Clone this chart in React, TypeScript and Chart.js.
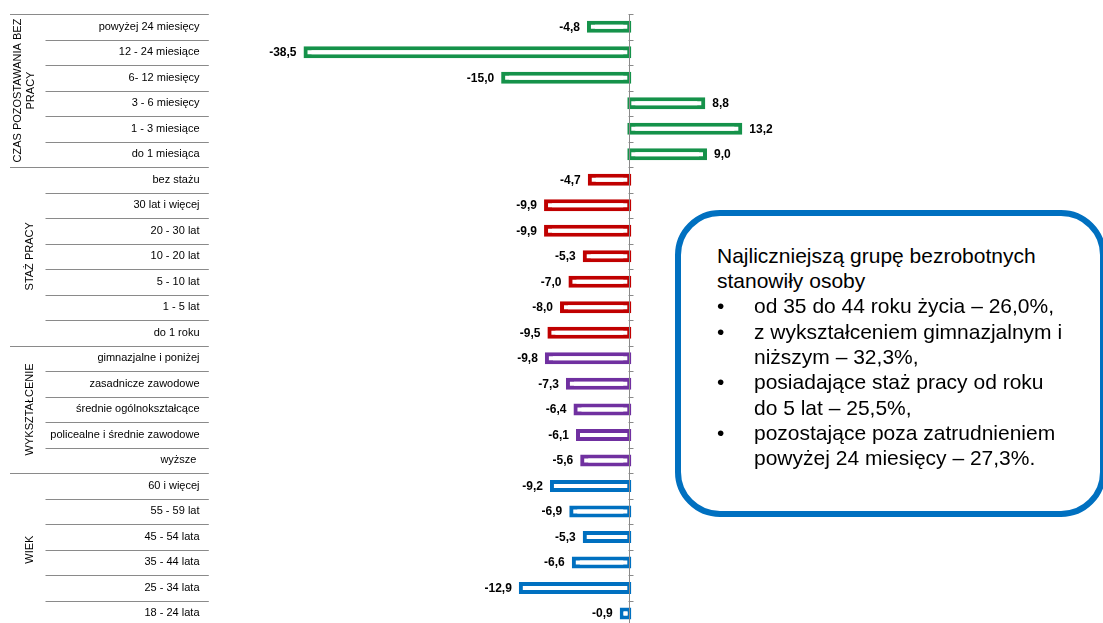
import React, { useEffect, useRef } from "react";
import { Chart, registerables } from "chart.js";

Chart.register(...registerables);

const categories: string[] = [
  "powyżej 24 miesięcy",
  "12 - 24 miesiące",
  "6- 12 miesięcy",
  "3 - 6 miesięcy",
  "1 - 3 miesiące",
  "do 1 miesiąca",
  "bez stażu",
  "30 lat i więcej",
  "20 - 30 lat",
  "10 - 20 lat",
  "5 - 10 lat",
  "1 - 5 lat",
  "do 1 roku",
  "gimnazjalne i poniżej",
  "zasadnicze zawodowe",
  "średnie ogólnokształcące",
  "policealne i średnie zawodowe",
  "wyższe ",
  "60 i więcej",
  "55 - 59 lat",
  "45 - 54 lata",
  "35 - 44 lata",
  "25 - 34 lata",
  "18 - 24 lata",
];

const values: number[] = [
  -4.8, -38.5, -15.0, 8.8, 13.2, 9.0,
  -4.7, -9.9, -9.9, -5.3, -7.0, -8.0, -9.5,
  -9.8, -7.3, -6.4, -6.1, -5.6,
  -9.2, -6.9, -5.3, -6.6, -12.9, -0.9,
];

const groupNames: string[][] = [
  ["CZAS POZOSTAWANIA BEZ", "PRACY"],
  ["STAŻ PRACY"],
  ["WYKSZTAŁCENIE"],
  ["WIEK"],
];
const groupSizes: number[] = [6, 7, 5, 6];
const groupColors: string[] = ["#15924A", "#C00000", "#7030A0", "#0070C0"];

const FONT = "'Liberation Sans', Arial, sans-serif";

function barColors(): string[] {
  const out: string[] = [];
  groupSizes.forEach((n, g) => {
    for (let i = 0; i < n; i++) out.push(groupColors[g]);
  });
  return out;
}

const overlayPlugin = {
  id: "overlay",
  afterDatasetsDraw(chart: any) {
    const ctx = chart.ctx as CanvasRenderingContext2D;
    const xs = chart.scales.x;
    const ys = chart.scales.y;
    const area = chart.chartArea;
    const n = categories.length;
    const rowH = (area.bottom - area.top) / n;
    const groupBounds = new Set<number>([0]);
    let acc = 0;
    groupSizes.forEach((s) => {
      acc += s;
      groupBounds.add(acc);
    });

    ctx.save();
    ctx.strokeStyle = "#8a8a8a";
    ctx.lineWidth = 1;
    for (let i = 0; i <= n; i++) {
      const y = Math.round(area.top + i * rowH) + 0.5;
      const x1 = groupBounds.has(i) ? 10 : 45.5;
      ctx.beginPath();
      ctx.moveTo(x1, y);
      ctx.lineTo(area.left, y);
      ctx.stroke();
    }

    ctx.fillStyle = "#000";
    ctx.font = `11px ${FONT}`;
    ctx.textAlign = "center";
    ctx.textBaseline = "middle";
    let start = 0;
    groupSizes.forEach((s, g) => {
      const yc = area.top + (start + s / 2) * rowH;
      const lines = groupNames[g];
      const xsPos = lines.length === 2 ? [17.5, 31] : [30];
      lines.forEach((t, k) => {
        ctx.save();
        ctx.translate(xsPos[k], yc);
        ctx.rotate(-Math.PI / 2);
        ctx.fillText(t, 0, 0);
        ctx.restore();
      });
      start += s;
    });

    const x0 = Math.round(xs.getPixelForValue(0)) + 0.5;
    ctx.strokeStyle = "#8a8a8a";
    ctx.beginPath();
    ctx.moveTo(x0, area.top);
    ctx.lineTo(x0, area.bottom);
    ctx.stroke();
    for (let i = 0; i <= n; i++) {
      const y = Math.round(area.top + i * rowH) + 0.5;
      ctx.beginPath();
      ctx.moveTo(x0 - 1, y);
      ctx.lineTo(x0 + 4, y);
      ctx.stroke();
    }

    ctx.font = `bold 12px ${FONT}`;
    ctx.fillStyle = "#000";
    ctx.textBaseline = "middle";
    values.forEach((v, i) => {
      const y = ys.getPixelForValue(i) + 0.5;
      const xv = xs.getPixelForValue(v);
      const txt = v.toFixed(1).replace(".", ",");
      if (v < 0) {
        ctx.textAlign = "right";
        ctx.fillText(txt, xv - 9, y);
      } else {
        ctx.textAlign = "left";
        ctx.fillText(txt, xv + 9, y);
      }
    });
    ctx.restore();
  },
};

export default function App() {
  const canvasRef = useRef<HTMLCanvasElement | null>(null);

  useEffect(() => {
    if (!canvasRef.current) return;
    Chart.defaults.font.family = FONT;
    const chart = new Chart(canvasRef.current, {
      type: "bar",
      data: {
        labels: categories,
        datasets: [
          {
            data: values,
            backgroundColor: "#ffffff",
            borderColor: barColors(),
            borderWidth: 4,
            borderSkipped: false,
            barThickness: 8,
            inflateAmount: 2,
          },
        ],
      },
      options: {
        indexAxis: "y",
        animation: false,
        responsive: false,
        devicePixelRatio: 1,
        layout: { padding: { left: 0, right: 53.2, top: 14, bottom: 1.8 } },
        plugins: {
          legend: { display: false },
          tooltip: { enabled: false },
        },
        scales: {
          x: {
            display: false,
            min: -50,
            max: 50,
          },
          y: {
            afterFit: (s: any) => {
              s.width = 208.8;
              s.paddingTop = 0;
              s.paddingBottom = 0;
            },
            grid: { display: false, drawTicks: false },
            border: { display: false },
            ticks: {
              padding: 9.3,
              color: "#000",
              font: { size: 11, family: FONT },
              autoSkip: false,
            },
          },
        },
      },
      plugins: [overlayPlugin],
    } as any);
    return () => chart.destroy();
  }, []);

  const itemStyle: React.CSSProperties = { position: "relative", paddingLeft: 37, whiteSpace: "nowrap" };
  const bulletStyle: React.CSSProperties = { position: "absolute", left: 0, top: 0 };

  return (
    <div
      style={{
        position: "fixed",
        left: 0,
        top: 0,
        width: 1103,
        height: 623,
        overflow: "hidden",
        background: "#ffffff",
      }}
    >
      <canvas ref={canvasRef} width={1103} height={628} style={{ display: "block", width: 1103, height: 628 }} />
      <div
        style={{
          position: "absolute",
          left: 675,
          top: 210,
          width: 431,
          height: 307,
          boxSizing: "border-box",
          border: "6px solid #0070C0",
          borderRadius: 45,
          background: "#ffffff",
          paddingLeft: 36,
          paddingTop: 26.8,
          fontFamily: FONT,
          fontSize: 21,
          lineHeight: "25.3px",
          color: "#000",
        }}
      >
        <div style={{ whiteSpace: "nowrap" }}>Najliczniejszą grupę bezrobotnych</div>
        <div style={{ whiteSpace: "nowrap" }}>stanowiły osoby</div>
        <div style={itemStyle}>
          <span style={bulletStyle}>•</span>od 35 do 44 roku życia – 26,0%,
        </div>
        <div style={itemStyle}>
          <span style={bulletStyle}>•</span>z wykształceniem gimnazjalnym i
          <br />
          niższym – 32,3%,
        </div>
        <div style={itemStyle}>
          <span style={bulletStyle}>•</span>posiadające staż pracy od roku
          <br />
          do 5 lat – 25,5%,
        </div>
        <div style={itemStyle}>
          <span style={bulletStyle}>•</span>pozostające poza zatrudnieniem
          <br />
          powyżej 24 miesięcy – 27,3%.
        </div>
      </div>
    </div>
  );
}
